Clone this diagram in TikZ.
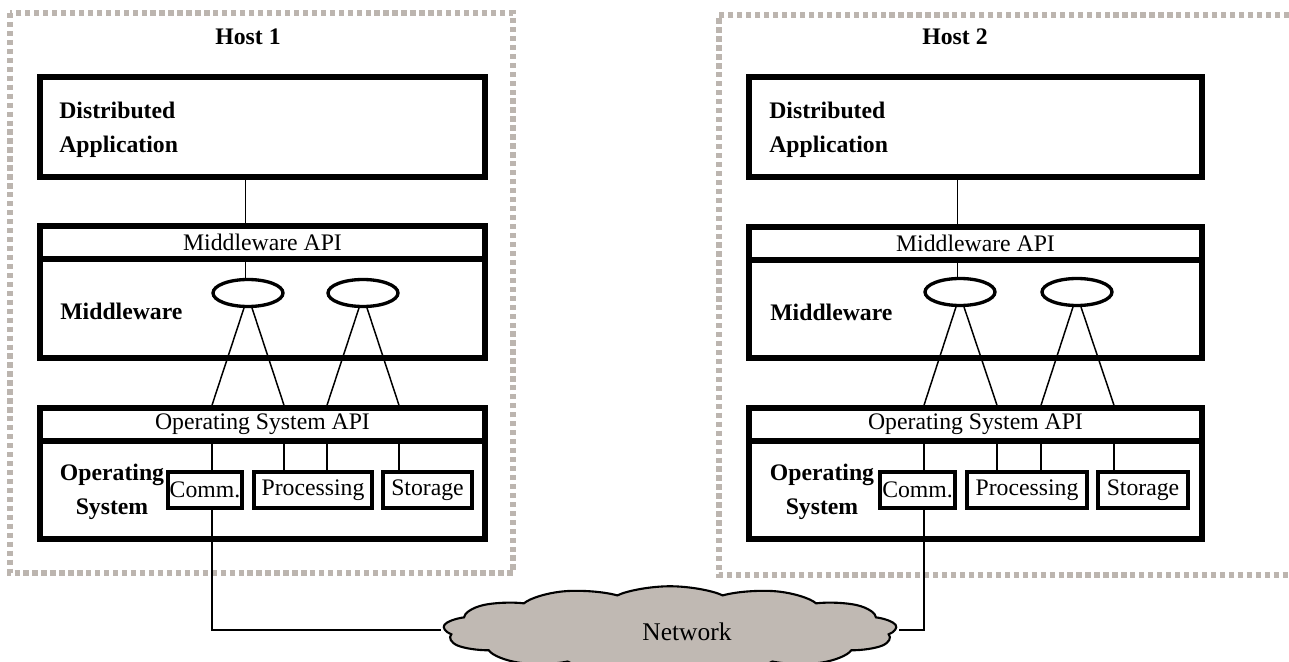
\documentclass[tikz,border=0pt]{standalone}
\usepackage{fontspec}
\setmainfont{Liberation Serif}
\usetikzlibrary{shapes}
\definecolor{hostgray}{RGB}{188,181,175}
\definecolor{netgray}{RGB}{192,185,179}

\begin{document}
\begin{tikzpicture}[
    x=0.02cm, y=-0.02cm,
    font=\fontsize{13.5}{19.5}\selectfont,
    text centered,
	host/.style={
	  draw=hostgray,
	  line width=3.2pt,
	  dash pattern=on 3pt off 2.1pt
	},
	layer/.style={
	  rectangle,
	  draw,
	  line width=3.2pt,
	  inner sep=0pt
	},
	api/.style={
	  layer,
	  minimum height=0.66cm
	},
	unit/.style={
	  rectangle,
	  draw,
	  line width=2.6pt,
	  inner sep=1pt,
	  minimum height=0.72cm
	},
	service/.style={
	  ellipse,
	  draw,
	  line width=1.9pt,
	  minimum width=1.4cm,
	  minimum height=0.54cm
	},
	label/.style={
	  font=\fontsize{13.5}{19.5}\selectfont\bfseries,
	  inner sep=0pt,
	  align=left
	},
	network/.style={
	  cloud,
	  cloud puffs=13,
	  cloud puff arc=110,
	  aspect=1.6,
	  draw,
	  line width=1.2pt,
	  fill=netgray,
	  inner sep=0pt,
	  minimum width=3.03cm,
	  minimum height=1.75cm,
	  xscale=3,
	  transform shape
	},
 	line/.style={draw, line width=0.85pt}
	]
	\useasboundingbox (0,0) rectangle (1289,662);
	\draw[host] (10,13) rectangle (513,573);
	\draw[host] (1289,15) -- (719,15) -- (719,575) -- (1289,575);
	\node [network] at (670,630) (net) {};
	\node at (687,632) (nettext) {\fontsize{14.5}{17}\selectfont Network};

	% host 1
	\node [label] at (248,37) (host1) {Host 1};
	\node [layer, minimum width=8.9cm, minimum height=2cm] at (262.5,127) (da1) {};
	\node [label, anchor=west] at (59,130) (da1text) {Distributed\\Application};
	\node [layer, minimum width=8.9cm, minimum height=2.64cm] at (262.5,292) (mw1) {};
	\node [api, minimum width=8.9cm] at (262.5,242.5) (mwapi1) {Middleware API};
	\node [label, anchor=west] at (60,311) (mw1text) {Middleware};
	\node [service] at (248,293) (e11) {};
	\node [service] at (363,293) (e12) {};
	\node [layer, minimum width=8.9cm, minimum height=2.62cm] at (262.5,473.5) (os1) {};
	\node [api, minimum width=8.9cm] at (262.5,424.5) (osapi1) {Operating System API};
	\node [label, align=center] at (112,492) (os1text) {Operating\\System};
	\node [unit, minimum width=1.48cm] at (205,490) (comm1) {Comm.};
	\node [unit, minimum width=2.36cm] at (313,490) (proc1) {Processing};
	\node [unit, minimum width=1.78cm] at (427.5,490) (stor1) {Storage};
	\coordinate (c11) at (212,441);
	\coordinate (c12) at (284,441);
	\coordinate (c13) at (327,441);
	\coordinate (c14) at (399,441);
	\path[line] (da1.south -| e11.100) -- (mw1.north -| e11.100);
	\path[line] (mwapi1.south -| e11.100) -- (e11.100);
	\path[line] (e11.255) -- (os1.north -| c11);
	\path[line] (e11.285) -- (os1.north -| c12);
	\path[line] (e12.255) -- (os1.north -| c13);
	\path[line] (e12.285) -- (os1.north -| c14);
	\path[line] (c11) -- (comm1.north -| c11);
	\path[line] (c12) -- (proc1.north -| c12);
	\path[line] (c13) -- (proc1.north -| c13);
	\path[line] (c14) -- (stor1.north -| c14);
	\path[line] (comm1.south -| c11) |- (net.west);

	% host 2
	\node [label] at (955,37) (host2) {Host 2};
	\node [layer, minimum width=9.06cm, minimum height=2cm] at (975.5,127) (da2) {};
	\node [label, anchor=west] at (769,130) (da2text) {Distributed\\Application};
	\node [layer, minimum width=9.06cm, minimum height=2.62cm] at (975.5,292.5) (mw2) {};
	\node [api, minimum width=9.06cm] at (975.5,243.5) (mwapi2) {Middleware API};
	\node [label, anchor=west] at (770,312) (mw2text) {Middleware};
	\node [service] at (960,292) (e21) {};
	\node [service] at (1077,292) (e22) {};
	\node [layer, minimum width=9.06cm, minimum height=2.62cm] at (975.5,473.5) (os2) {};
	\node [api, minimum width=9.06cm] at (975.5,424.5) (osapi2) {Operating System API};
	\node [label, align=center] at (822,492) (os2text) {Operating\\System};
	\node [unit, minimum width=1.5cm] at (917.5,490) (comm2) {Comm.};
	\node [unit, minimum width=2.4cm] at (1027,490) (proc2) {Processing};
	\node [unit, minimum width=1.8cm] at (1143,490) (stor2) {Storage};
	\coordinate (c21) at (924,441);
	\coordinate (c22) at (997,441);
	\coordinate (c23) at (1041,441);
	\coordinate (c24) at (1114,441);
	\path[line] (da2.south -| e21.100) -- (mw2.north -| e21.100);
	\path[line] (mwapi2.south -| e21.100) -- (e21.100);
	\path[line] (e21.255) -- (os2.north -| c21);
	\path[line] (e21.285) -- (os2.north -| c22);
	\path[line] (e22.255) -- (os2.north -| c23);
	\path[line] (e22.285) -- (os2.north -| c24);
	\path[line] (c21) -- (comm2.north -| c21);
	\path[line] (c22) -- (proc2.north -| c22);
	\path[line] (c23) -- (proc2.north -| c23);
	\path[line] (c24) -- (stor2.north -| c24);
	\path[line] (comm2.south -| c21) |- (net.east);
  \end{tikzpicture}
\end{document}
